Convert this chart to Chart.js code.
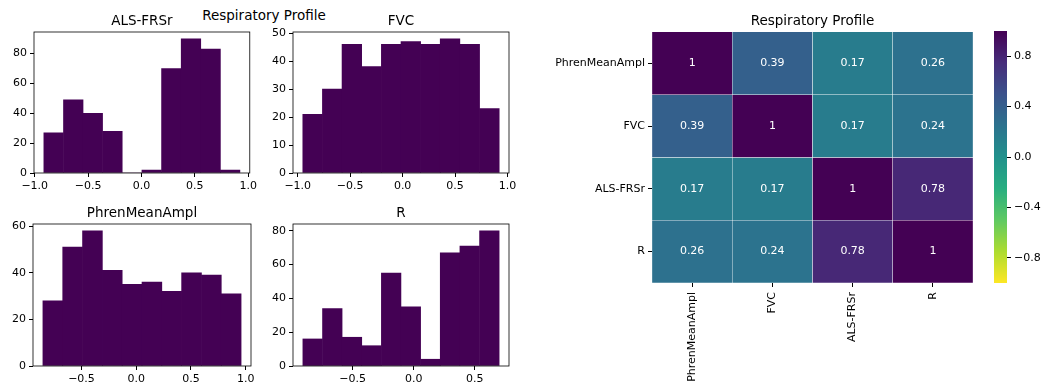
<!DOCTYPE html>
<html>
<head>
<meta charset="utf-8">
<title>Respiratory Profile</title>
<script src="https://cdn.jsdelivr.net/npm/chart.js@4.4.1/dist/chart.umd.min.js"></script>
<style>
    body { margin: 0; background: #fff; width: 1041px; height: 388px; position: relative; overflow: hidden; font-family: 'DejaVu Sans', sans-serif; }
    canvas { position: absolute; }
    #suptitle { position: absolute; top: 7px; left: 264px; transform: translateX(-50%); font-size: 13.5px; line-height: 16px; color: #000; white-space: nowrap; }
</style>
</head>
<body>
<div id="suptitle">Respiratory Profile</div>
<canvas id="histAls" width="260" height="195" style="left:0;top:0"></canvas>
<canvas id="histFvc" width="260" height="195" style="left:260px;top:0"></canvas>
<canvas id="histPhren" width="260" height="193" style="left:0;top:195px"></canvas>
<canvas id="histR" width="260" height="193" style="left:260px;top:195px"></canvas>
<canvas id="heatmap" width="440" height="388" style="left:540px;top:0"></canvas>
<canvas id="colorbar" width="56" height="388" style="left:985px;top:0"></canvas>
<script>
// --- histogramas: centros dos bins e contagens ---
const alsCenters   = [-0.823, -0.639, -0.456, -0.272, -0.088, 0.096, 0.280, 0.464, 0.648, 0.831];
const alsCounts    = [27, 49, 40, 28, 0, 2, 70, 90, 83, 2];
const alsXTicks    = [-1, -0.5, 0, 0.5, 1];
const alsYTicks    = [0, 20, 40, 60, 80];

const fvcCenters   = [-0.858, -0.671, -0.484, -0.297, -0.109, 0.078, 0.265, 0.452, 0.640, 0.827];
const fvcCounts    = [21, 30, 46, 38, 46, 47, 46, 48, 46, 23];
const fvcXTicks    = [-1, -0.5, 0, 0.5, 1];
const fvcYTicks    = [0, 10, 20, 30, 40, 50];

const phrenCenters = [-0.762, -0.581, -0.400, -0.219, -0.038, 0.143, 0.324, 0.505, 0.686, 0.867];
const phrenCounts  = [28, 51, 58, 41, 35, 36, 32, 40, 39, 31];
const phrenXTicks  = [-0.5, 0, 0.5, 1];
const phrenYTicks  = [0, 20, 40, 60];

const rCenters     = [-0.828, -0.667, -0.506, -0.346, -0.185, -0.024, 0.137, 0.297, 0.458, 0.619];
const rCounts      = [16, 34, 17, 12, 55, 35, 4, 67, 71, 80];
const rXTicks      = [-0.5, 0, 0.5];
const rYTicks      = [0, 20, 40, 60, 80];

// --- matriz de correlação ---
const heatLabels   = ['PhrenMeanAmpl', 'FVC', 'ALS-FRSr', 'R'];
const corrPhren    = [1, 0.39, 0.17, 0.26];
const corrFvc      = [0.39, 1, 0.17, 0.24];
const corrAls      = [0.17, 0.17, 1, 0.78];
const corrR        = [0.26, 0.24, 0.78, 1];
const heatRowTicks = [0.5, 1.5, 2.5, 3.5];

const colorbarRange = [-1, 1];
const colorbarTicks = [-0.8, -0.4, 0, 0.4, 0.8];

const FONT = "'DejaVu Sans', sans-serif";
const TICK_SIZE = 11;
const TITLE_SIZE = 13.5;
const PURPLE = '#440154';
const VIRIDIS = ['#440154', '#472d7b', '#3b528b', '#2c728e', '#21918c', '#28ae80', '#5ec962', '#addc30', '#fde725'];

Chart.defaults.font.family = FONT;
Chart.defaults.color = '#000';

const hexToRgb = (h) => [1, 3, 5].map(i => parseInt(h.slice(i, i + 2), 16));

function viridis(t) {
    t = Math.max(0, Math.min(1, t));
    const pos = t * (VIRIDIS.length - 1);
    const i = Math.min(Math.floor(pos), VIRIDIS.length - 2);
    const f = pos - i;
    const a = hexToRgb(VIRIDIS[i]);
    const b = hexToRgb(VIRIDIS[i + 1]);
    const c = a.map((v, k) => Math.round(v + (b[k] - v) * f));
    return `rgb(${c[0]},${c[1]},${c[2]})`;
}

// viridis_r com vmin -1 / vmax 1
const corrColor = (v) => viridis(1 - (v + 1) / 2);

const fmtTick = (v) => v.toFixed(1).replace('-', '\u2212');

// Bordas dos eixos (estilo matplotlib, 4 lados)
const spines = {
    id: 'spines',
    afterDatasetsDraw: (chart) => {
        const { ctx, chartArea: a } = chart;
        ctx.save();
        ctx.strokeStyle = '#000';
        ctx.lineWidth = 0.8;
        ctx.strokeRect(a.left, a.top, a.right - a.left, a.bottom - a.top);
        ctx.restore();
    }
};

// Título centrado sobre a área do gráfico
const axTitle = (text) => ({
    id: 'axTitle',
    afterDraw: (chart) => {
        const { ctx, chartArea: a } = chart;
        ctx.save();
        ctx.fillStyle = '#000';
        ctx.font = `${TITLE_SIZE}px ${FONT}`;
        ctx.textAlign = 'center';
        ctx.textBaseline = 'alphabetic';
        ctx.fillText(text, (a.left + a.right) / 2, a.top - 7);
        ctx.restore();
    }
});

const tickGrid = { drawOnChartArea: false, drawTicks: true, tickLength: 4, color: '#000', lineWidth: 1 };

function makeHist(id, title, centers, counts, xTicks, yTicks, yWidth, rightPad, topPad) {
    const w = centers[1] - centers[0];
    const lo = centers[0] - w / 2;
    const hi = centers[centers.length - 1] + w / 2;
    const m = (hi - lo) * 0.05;

    new Chart(document.getElementById(id), {
        type: 'bar',
        plugins: [spines, axTitle(title)],
        data: {
            datasets: [{
                data: centers.map((x, i) => ({ x, y: counts[i] })),
                backgroundColor: PURPLE,
                borderWidth: 0,
                barPercentage: 1,
                categoryPercentage: 1
            }]
        },
        options: {
            responsive: false,
            animation: false,
            events: [],
            layout: { padding: { top: topPad, right: rightPad, left: 0, bottom: 0 } },
            plugins: { legend: { display: false }, tooltip: { enabled: false } },
            scales: {
                x: {
                    type: 'linear',
                    offset: false,
                    min: lo - m,
                    max: hi + m,
                    afterBuildTicks: (s) => { s.ticks = xTicks.map(v => ({ value: v })); },
                    afterFit: (s) => { s.height = 22; },
                    border: { display: false },
                    grid: { ...tickGrid, offset: false },
                    ticks: { font: { size: TICK_SIZE }, padding: 3, maxRotation: 0, autoSkip: false, callback: (v) => fmtTick(v) }
                },
                y: {
                    min: 0,
                    max: Math.max(...counts) * 1.05,
                    afterBuildTicks: (s) => { s.ticks = yTicks.map(v => ({ value: v })); },
                    afterFit: (s) => { s.width = yWidth; },
                    border: { display: false },
                    grid: tickGrid,
                    ticks: { font: { size: TICK_SIZE }, padding: 3, callback: (v) => String(v) }
                }
            }
        }
    });
}

makeHist('histAls',   'ALS-FRSr',      alsCenters,   alsCounts,   alsXTicks,   alsYTicks,   34, 9,  32);
makeHist('histFvc',   'FVC',           fvcCenters,   fvcCounts,   fvcXTicks,   fvcYTicks,   33, 11, 32);
makeHist('histPhren', 'PhrenMeanAmpl', phrenCenters, phrenCounts, phrenXTicks, phrenYTicks, 33, 9,  29);
makeHist('histR',     'R',             rCenters,     rCounts,     rXTicks,     rYTicks,     33, 11, 29);

// Anotações dentro das células
const cellText = {
    id: 'cellText',
    afterDatasetsDraw: (chart) => {
        const { ctx } = chart;
        ctx.save();
        ctx.fillStyle = '#fff';
        ctx.font = `${TICK_SIZE}px ${FONT}`;
        ctx.textAlign = 'center';
        ctx.textBaseline = 'middle';
        chart.data.datasets.forEach((ds, di) => {
            chart.getDatasetMeta(di).data.forEach((el, ci) => {
                ctx.fillText(String(Number(ds.corr[ci].toPrecision(2))), el.x, (el.y + el.base) / 2);
            });
        });
        ctx.restore();
    }
};

const corrRows = [corrPhren, corrFvc, corrAls, corrR];

new Chart(document.getElementById('heatmap'), {
    type: 'bar',
    plugins: [cellText, axTitle('Respiratory Profile')],
    data: {
        labels: heatLabels,
        datasets: corrRows.map(row => ({
            data: row.map(() => 1),
            corr: row,
            backgroundColor: row.map(corrColor),
            borderColor: 'rgba(255,255,255,0.85)',
            borderWidth: 0.5,
            barPercentage: 1,
            categoryPercentage: 1
        }))
    },
    options: {
        responsive: false,
        animation: false,
        events: [],
        layout: { padding: { top: 32, right: 7, left: 0, bottom: 0 } },
        plugins: { legend: { display: false }, tooltip: { enabled: false } },
        scales: {
            x: {
                stacked: true,
                offset: true,
                afterFit: (s) => { s.height = 105; },
                border: { display: false },
                grid: { ...tickGrid, offset: false },
                ticks: { font: { size: TICK_SIZE }, padding: 5, minRotation: 90, maxRotation: 90, autoSkip: false }
            },
            y: {
                stacked: true,
                reverse: true,
                min: 0,
                max: heatLabels.length,
                afterBuildTicks: (s) => { s.ticks = heatRowTicks.map(v => ({ value: v })); },
                afterFit: (s) => { s.width = 112; },
                border: { display: false },
                grid: tickGrid,
                ticks: { font: { size: TICK_SIZE }, padding: 3, callback: (v, i) => heatLabels[i] }
            }
        }
    }
});

// Barra de cores (viridis_r de -1 a 1)
new Chart(document.getElementById('colorbar'), {
    type: 'bar',
    data: {
        labels: [''],
        datasets: [{
            data: [colorbarRange],
            borderWidth: 0,
            barPercentage: 1,
            categoryPercentage: 1,
            backgroundColor: (c) => {
                const { chart } = c;
                const y = chart.scales.y;
                if (!y || !chart.chartArea) return VIRIDIS[4];
                const g = chart.ctx.createLinearGradient(0, y.getPixelForValue(colorbarRange[0]), 0, y.getPixelForValue(colorbarRange[1]));
                const n = VIRIDIS.length;
                VIRIDIS.forEach((col, i) => g.addColorStop(i / (n - 1), VIRIDIS[n - 1 - i]));
                return g;
            }
        }]
    },
    options: {
        responsive: false,
        animation: false,
        events: [],
        layout: { padding: { top: 31, right: 0, left: 9, bottom: 105 } },
        plugins: { legend: { display: false }, tooltip: { enabled: false } },
        scales: {
            x: { display: false },
            y: {
                position: 'right',
                min: colorbarRange[0],
                max: colorbarRange[1],
                afterBuildTicks: (s) => { s.ticks = colorbarTicks.map(v => ({ value: v })); },
                afterFit: (s) => { s.width = 34; },
                border: { display: false },
                grid: tickGrid,
                ticks: { font: { size: TICK_SIZE }, padding: 3, callback: (v) => fmtTick(v) }
            }
        }
    }
});
</script>
</body>
</html>
